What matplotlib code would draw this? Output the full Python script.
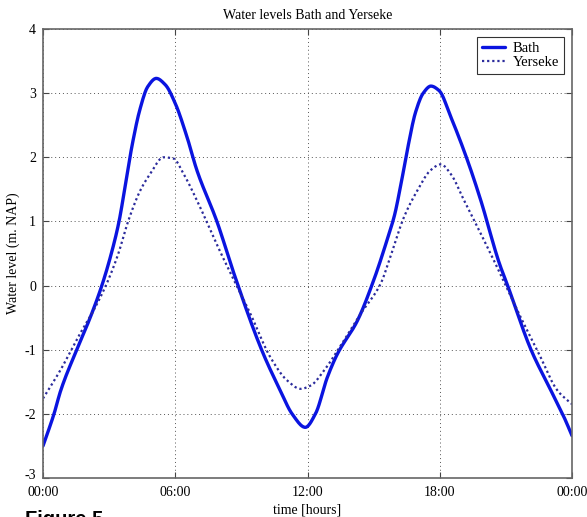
import matplotlib
matplotlib.use("Agg")
import matplotlib.pyplot as plt
import matplotlib.transforms as mtransforms
import numpy as np

# Data (hours, water level in m NAP)
bath_t = [0.0, 0.5, 0.8, 1.53, 2.14, 2.67, 3.1, 3.45, 3.75, 4.05, 4.4, 4.75, 5.14,
          5.55, 6.0, 6.53, 6.98, 7.9, 8.65, 9.94, 10.77, 11.3, 11.9, 12.36,
          12.9, 13.35, 14.26, 15.0, 15.6, 15.95, 16.25, 16.55, 16.9, 17.25, 17.6, 17.97,
          18.5, 19.26, 19.86, 20.7, 21.08, 22.14, 23.05, 23.65, 24.0]
bath_v = [-2.5, -2.0, -1.64, -1.0, -0.5, 0.0, 0.5, 1.0, 1.6, 2.2, 2.75, 3.1, 3.23,
          3.13, 2.84, 2.32, 1.8, 0.99, 0.2, -1.02, -1.64, -2.0, -2.21, -2.0,
          -1.43, -1.07, -0.55, 0.08, 0.7, 1.1, 1.6, 2.15, 2.7, 3.0, 3.11, 3.04,
          2.63, 1.95, 1.33, 0.35, 0.0, -1.0, -1.64, -2.06, -2.34]

yer_t = [0.0, 0.77, 1.68, 2.29, 2.89, 3.4, 3.88, 4.41, 4.86, 5.47, 5.92, 6.38, 6.98,
         8.05, 9.41, 10.32, 11.08, 11.68, 12.14, 12.74, 13.35, 14.41, 15.32, 15.77,
         16.38, 16.98, 17.59, 18.05, 18.5, 19.1, 19.86, 20.5, 21.68, 22.44, 23.35, 24.0]
yer_v = [-1.76, -1.33, -0.75, -0.39, 0.03, 0.48, 1.02, 1.48, 1.74, 2.0, 1.98, 1.74, 1.33,
         0.52, -0.44, -1.12, -1.48, -1.61, -1.56, -1.33, -1.02, -0.44, 0.03, 0.46,
         1.07, 1.48, 1.8, 1.89, 1.74, 1.33, 0.81, 0.36, -0.5, -1.02, -1.64, -1.85]

xticks = [0, 6, 12, 18, 24]
xticklabels = ["00:00", "06:00", "12:00", "18:00", "00:00"]
yticks = [-3, -2, -1, 0, 1, 2, 3, 4]

plt.rcParams['font.family'] = ["Liberation Serif", "DejaVu Serif"]
plt.rcParams['axes.unicode_minus'] = False

fig = plt.figure(figsize=(5.87, 5.17), dpi=100)
ax = fig.add_axes([43/587, 1-478/517, (572-43)/587, (478-29)/517])


def pchip(t, v, n=800):
    """Monotone piecewise cubic (Fritsch-Carlson) interpolation."""
    t = np.asarray(t, float); v = np.asarray(v, float)
    h = np.diff(t); d = np.diff(v) / h
    m = np.zeros_like(v)
    for k in range(1, len(v) - 1):
        if d[k-1] * d[k] <= 0:
            m[k] = 0.0
        else:
            w1 = 2*h[k] + h[k-1]; w2 = h[k] + 2*h[k-1]
            m[k] = (w1 + w2) / (w1/d[k-1] + w2/d[k])
    m[0] = d[0]; m[-1] = d[-1]
    tt = np.linspace(t[0], t[-1], n)
    idx = np.clip(np.searchsorted(t, tt) - 1, 0, len(t) - 2)
    hh = t[idx+1] - t[idx]
    s = (tt - t[idx]) / hh
    h00 = 2*s**3 - 3*s**2 + 1; h10 = s**3 - 2*s**2 + s
    h01 = -2*s**3 + 3*s**2; h11 = s**3 - s**2
    return tt, h00*v[idx] + h10*hh*m[idx] + h01*v[idx+1] + h11*hh*m[idx+1]


bt, bv = pchip(bath_t, bath_v)
yt, yv = pchip(yer_t, yer_v)

ax.plot(bt, bv, color="#0a14e0", lw=2.4, label="Bath", solid_capstyle='round')
ax.plot(yt, yv, color="#2b2b9c", lw=1.6, ls=(0, (1, 1.3)), label="Yerseke")

ax.set_xlim(0, 24)
ax.set_ylim(-3, 4)
ax.set_xticks(xticks)
ax.set_xticklabels(xticklabels)
ax.set_yticks(yticks)
ax.grid(True, color="#555555", ls=(0, (1, 3)), lw=0.7)
ax.tick_params(direction="in", top=True, right=True, length=4, labelsize=10,
               color="#444444")
ax.tick_params(axis="x", pad=6)
ax.tick_params(axis="y", pad=5)
for sp in ax.spines.values():
    sp.set_color("#666666")
    sp.set_linewidth(1.2)

# raise the lowest y tick label a bit, as in the reference
fig.canvas.draw()
lbl = ax.get_yticklabels()[0]
lbl.set_transform(lbl.get_transform() + mtransforms.ScaledTranslation(0, 4/100, fig.dpi_scale_trans))

ax.set_title("Water levels Bath and Yerseke", fontsize=10, pad=7)
ax.set_xlabel("time [hours]", fontsize=10, labelpad=3)
ax.set_ylabel("Water level (m. NAP)", fontsize=10, labelpad=3)

leg = ax.legend(loc="upper right", fontsize=10.5, frameon=True, fancybox=False,
                borderpad=0.35, handlelength=1.6, handletextpad=0.5, labelspacing=0.05,
                borderaxespad=0.55)
leg.get_frame().set_edgecolor("black")
leg.get_frame().set_linewidth(0.8)

fig.text(25/587, 1-510/517, "Figure 5", fontsize=14.5, fontweight="bold",
         family=["Liberation Sans", "DejaVu Sans"], va="top", ha="left")

fig.savefig("out.png", dpi=100)
